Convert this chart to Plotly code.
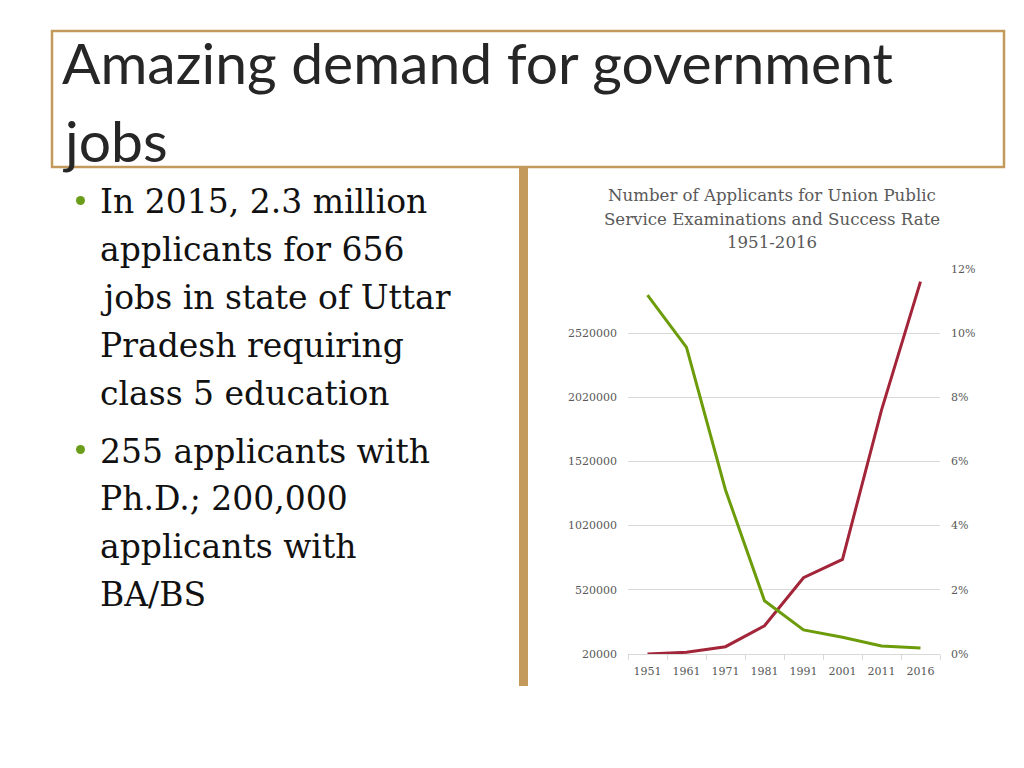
import plotly.graph_objects as go

# ---- data ----
years = ["1951", "1961", "1971", "1981", "1991", "2001", "2011", "2016"]
applicants = [20000, 33000, 77000, 240000, 614000, 757000, 1920000, 2920000]
success_rate = [0.1118, 0.0955, 0.0511, 0.0166, 0.0075, 0.0052, 0.0025, 0.0019]
left_ticks = [20000, 520000, 1020000, 1520000, 2020000, 2520000]
right_ticks = [0, 0.02, 0.04, 0.06, 0.08, 0.10, 0.12]

chart_title = ["Number of Applicants for Union Public",
               "Service Examinations and Success Rate",
               "1951-2016"]
slide_title = ["Amazing demand for government", "jobs"]
bullet1 = ["In 2015, 2.3 million", "applicants for 656", "jobs in state of Uttar",
           "Pradesh requiring", "class 5 education"]
bullet2 = ["255 applicants with", "Ph.D.; 200,000", "applicants with", "BA/BS"]

W, H = 1024, 768
TAN = "#C49A5C"
GRID = "#D9D9D9"
LABEL = "#595959"
SERIF = "DejaVu Serif"


def px(x):
    return x / W


def py(y):
    return 1 - y / H


fig = go.Figure()
fig.add_trace(go.Scatter(x=years, y=applicants, mode="lines", name="Applicants",
                         line=dict(color="#A2253A", width=3), yaxis="y"))
fig.add_trace(go.Scatter(x=years, y=success_rate, mode="lines", name="Success rate",
                         line=dict(color="#6C9C0A", width=3), yaxis="y2"))

axis_font = dict(family=SERIF, size=11, color=LABEL)
fig.update_layout(
    width=W, height=H,
    margin=dict(l=0, r=0, t=0, b=0, pad=0),
    paper_bgcolor="white", plot_bgcolor="rgba(0,0,0,0)",
    showlegend=False,
    xaxis=dict(type="category", domain=[px(628), px(940)], range=[-0.5, 7.5],
               automargin=False,
               showline=True, linecolor=GRID, linewidth=1,
               ticks="outside", tickson="boundaries", ticklen=5, tickcolor=GRID,
               showgrid=False, tickfont=axis_font, ticklabelstandoff=7),
    yaxis=dict(domain=[py(654), py(268.8)], range=[20000, 3020000], automargin=False,
               tickvals=left_ticks, ticktext=[str(v) for v in left_ticks],
               showgrid=True, gridcolor=GRID, gridwidth=1, zeroline=False,
               showline=False, ticks="", tickfont=axis_font, ticklabelstandoff=10),
    yaxis2=dict(domain=[py(654), py(268.8)], range=[0, 0.12], overlaying="y", side="right",
                automargin=False,
                tickvals=right_ticks, tickformat=".0%", showgrid=False, zeroline=False,
                showline=False, ticks="", tickfont=axis_font, ticklabelstandoff=10,
                anchor="x"),
)

annotations = []
# chart title
for i, t in enumerate(chart_title):
    annotations.append(dict(text=t, x=px(772), y=py(196 + 23 * i), xref="paper", yref="paper",
                            xanchor="center", yanchor="middle", showarrow=False,
                            font=dict(family=SERIF, size=16.6, color=LABEL)))
# slide title
for i, t in enumerate(slide_title):
    annotations.append(dict(text=t, x=px(60), y=py(62 + 78 * i), xref="paper", yref="paper",
                            xanchor="left", yanchor="middle", showarrow=False,
                            font=dict(family="Lato", size=57, color="#262626")))
# bullets
for i, t in enumerate(bullet1):
    annotations.append(dict(text=t, x=px(98), y=py(202 + 47.8 * i), xref="paper", yref="paper",
                            xanchor="left", yanchor="middle", showarrow=False,
                            font=dict(family=SERIF, size=33, color="#111111")))
for i, t in enumerate(bullet2):
    annotations.append(dict(text=t, x=px(98), y=py(451 + 47.8 * i), xref="paper", yref="paper",
                            xanchor="left", yanchor="middle", showarrow=False,
                            font=dict(family=SERIF, size=33, color="#111111")))
fig.update_layout(annotations=annotations)

shapes = [
    # title box
    dict(type="rect", xref="paper", yref="paper", x0=px(52), x1=px(1004), y0=py(167), y1=py(31),
         line=dict(color=TAN, width=2.5), fillcolor="rgba(0,0,0,0)", layer="below"),
    # vertical divider
    dict(type="rect", xref="paper", yref="paper", x0=px(519), x1=px(528), y0=py(686), y1=py(168),
         line=dict(width=0), fillcolor=TAN, layer="below"),
    # bullet dots
    dict(type="circle", xref="paper", yref="paper", x0=px(76), x1=px(85), y0=py(205), y1=py(196),
         line=dict(width=0), fillcolor="#6A9E1A"),
    dict(type="circle", xref="paper", yref="paper", x0=px(76), x1=px(85), y0=py(454), y1=py(445),
         line=dict(width=0), fillcolor="#6A9E1A"),
]
fig.update_layout(shapes=shapes)

fig.write_html("out.html", config={"displayModeBar": False},
               post_script="document.body.style.margin='0px';document.body.style.overflow='hidden';")
